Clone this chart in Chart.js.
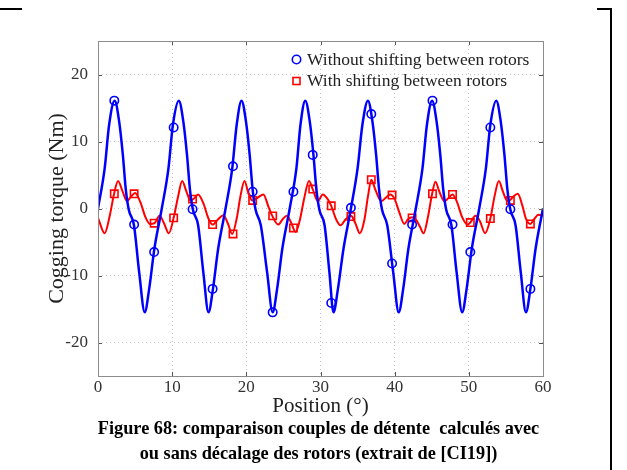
<!DOCTYPE html>
<html>
<head>
<meta charset="utf-8">
<script src="https://cdn.jsdelivr.net/npm/chart.js@4.4.1/dist/chart.umd.min.js"></script>
<style>
  body { margin: 0; background: #fff; width: 627px; height: 470px; position: relative; overflow: hidden; font-family: "Liberation Serif", "Times New Roman", serif; }
  #torqueChart { position: absolute; left: 0; top: 0; }
  .rule { position: absolute; background: #000; }
  .caption { position: absolute; left: 5px; top: 416px; width: 627px; text-align: center; font-weight: bold; font-size: 18.3px; line-height: 25px; color: #000; white-space: pre; }
</style>
</head>
<body>
<div class="rule" style="left:0;top:8px;width:22px;height:2px"></div>
<div class="rule" style="left:597px;top:8px;width:15px;height:2px"></div>
<div class="rule" style="left:610px;top:8px;width:2px;height:462px"></div>
<canvas id="torqueChart" width="627" height="470"></canvas>
<div class="caption">Figure 68: comparaison couples de détente  calculés avec
ou sans décalage des rotors (extrait de [CI19])</div>
<script>
// Axis ticks
const xTicks = [0, 10, 20, 30, 40, 50, 60];
const yTicks = [-20, -10, 0, 10, 20];

const seriesNames = ['Without shifting between rotors', 'With shifting between rotors'];

// Without shifting (blue curve)
const posWithout = [0, 0.9, 1.5, 2.25, 2.85, 3.35, 3.75, 4.15, 4.85, 5.55,
  6.3, 6.9, 7.6, 8.6, 9.5, 10.1, 10.9, 11.5, 12.0, 12.4, 12.8, 13.5, 14.2,
  14.9, 15.5, 16.2, 17.2, 18.1, 18.7, 19.35, 19.95, 20.45, 20.85, 21.25, 21.95, 22.8,
  23.55, 24.15, 24.85, 25.85, 26.75, 27.3, 27.95, 28.55, 29.05, 29.45, 29.85, 30.55, 31.2,
  31.75, 32.35, 33.1, 34.1, 35.0, 35.65, 36.4, 37.0, 37.5, 37.9, 38.3, 39.0, 39.8,
  40.55, 41.15, 41.85, 42.85, 43.75, 44.35, 45.05, 45.65, 46.15, 46.55, 46.95, 47.65, 48.35,
  49.1, 49.7, 50.4, 51.4, 52.3, 52.9, 53.7, 54.3, 54.8, 55.2, 55.6, 56.3, 57.0,
  57.7, 58.3, 59.0, 60.0];
const torqueWithout = [0, 6.0, 12.5, 16.1, 13.0, 8.0, 2.8, -0.2, -2.5, -9.5,
  -15.5, -12.0, -6.0, 0, 6.0, 12.5, 16.1, 13.0, 8.0, 2.8, -0.2, -2.5, -9.5,
  -15.5, -12.0, -6.0, 0, 6.0, 12.5, 16.1, 13.0, 8.0, 2.8, -0.2, -2.5, -9.5,
  -15.5, -12.0, -6.0, 0, 6.0, 12.5, 16.1, 13.0, 8.0, 2.8, -0.2, -2.5, -9.5,
  -15.5, -12.0, -6.0, 0, 6.0, 12.5, 16.1, 13.0, 8.0, 2.8, -0.2, -2.5, -9.5,
  -15.5, -12.0, -6.0, 0, 6.0, 12.5, 16.1, 13.0, 8.0, 2.8, -0.2, -2.5, -9.5,
  -15.5, -12.0, -6.0, 0, 6.0, 12.5, 16.1, 13.0, 8.0, 2.8, -0.2, -2.5, -9.5,
  -15.5, -12.0, -6.0, 0];

// With shifting (red curve)
const posWith = [0, 0.9, 1.6, 2.17, 2.7, 3.3, 3.9, 4.4, 5.0, 5.7, 6.4, 7.0, 7.6, 8.3, 8.9, 9.55,
  10.2, 10.8, 11.35, 11.9, 12.45, 12.95, 13.5, 14.2, 14.9, 15.45, 16.2, 16.9, 17.5, 18.1,
  18.7, 19.2, 19.75, 20.3, 20.8, 21.5, 22.3, 23.0, 23.5, 24.3, 24.9, 25.45, 26.0, 26.65,
  27.2, 27.8, 28.45, 28.95, 29.65, 30.3, 30.9, 31.45, 32.1, 32.7, 33.4, 34.1, 34.7, 35.3,
  35.9, 36.4, 36.85, 37.4, 38.2, 38.8, 39.4, 40.0, 40.6, 41.3, 41.8, 42.35, 42.9, 43.4, 43.9,
  44.5, 45.05, 45.5, 46.0, 46.7, 47.2, 47.8, 48.4, 49.1, 49.8, 50.2, 50.9, 51.5, 52.2,
  52.9, 53.5, 54.05, 54.6, 55.2, 55.6, 56.0, 56.6, 57.2, 57.7, 58.3, 58.8, 59.4, 60.0];
const torqueWith = [-1.4, -3.7, -1.0, 2.2, 4.1, 2.6, 1.1, 1.7, 2.3, 1.0, -1.3, -2.3, -2.2, -1.1, -2.2, -3.7,
  -1.4, 1.8, 4.1, 2.6, 1.2, 1.5, 2.1, 0.8, -1.5, -2.4, -1.6, -1.0, -2.2, -3.8,
  -1.5, 1.8, 4.1, 2.2, 1.2, 1.6, 2.1, 0.2, -1.1, -2.4, -1.6, -1.1, -2.0, -3.5,
  -1.8, 1.5, 4.1, 2.9, 1.1, 2.1, 1.5, 0.4, -1.6, -2.5, -1.6, -1.1, -2.2, -3.7,
  -1.8, 1.8, 4.3, 2.8, 1.1, 1.6, 2.1, 1.4, -0.5, -2.3, -1.6, -1.3, -1.7, -2.7, -3.7,
  -1.2, 2.2, 4.0, 2.6, 1.1, 1.5, 2.1, 1.0, -1.3, -2.4, -2.1, -1.1, -1.9, -3.7,
  -1.5, 2.0, 4.1, 2.5, 1.1, 1.3, 1.8, 2.2, 0.5, -1.5, -2.3, -1.6, -0.95, -1.05];

// Markers
const markPos = [2.2, 4.87, 7.57, 10.2, 12.75, 15.45, 18.2, 20.85, 23.55, 26.35, 28.95,
  31.45, 34.1, 36.85, 39.65, 42.35, 45.1, 47.8, 50.2, 52.9, 55.6, 58.3];
const markWithout = [16.1, -2.4, -6.5, 12.1, -0.1, -12.0, 6.3, 2.5, -15.5, 2.5, 8.0,
  -14.1, 0.1, 14.1, -8.2, -2.4, 16.1, -2.4, -6.5, 12.1, -0.1, -12.0];
const markWith = [2.2, 2.2, -2.2, -1.4, 1.4, -2.4, -3.8, 1.2, -1.1, -2.9, 2.9,
  0.4, -1.2, 4.3, 2.0, -1.4, 2.2, 2.1, -2.1, -1.5, 1.2, -2.3];

const BLUE = '#0000ff';
const RED = '#ff0000';
const FONT = '"Liberation Serif", "Times New Roman", serif';

function pts(xs, ys) {
  return xs.map((x, i) => ({ x: x, y: ys[i] }));
}

// frame, inward ticks and legend
const matlabBits = {
  id: 'matlabBits',
  afterDatasetsDraw(chart) {
    const ctx = chart.ctx;
    const a = chart.chartArea;
    const xs = chart.scales.x, ys = chart.scales.y;
    ctx.save();
    ctx.strokeStyle = '#555';
    ctx.lineWidth = 1;
    ctx.beginPath();
    xTicks.forEach(v => {
      const px = Math.round(xs.getPixelForValue(v)) + 0.5;
      ctx.moveTo(px, a.bottom); ctx.lineTo(px, a.bottom - 4);
      ctx.moveTo(px, a.top); ctx.lineTo(px, a.top + 4);
    });
    yTicks.forEach(v => {
      const py = Math.round(ys.getPixelForValue(v)) + 0.5;
      ctx.moveTo(a.left, py); ctx.lineTo(a.left + 4, py);
      ctx.moveTo(a.right, py); ctx.lineTo(a.right - 4, py);
    });
    ctx.stroke();
    ctx.strokeStyle = '#8c8c8c';
    ctx.strokeRect(Math.round(a.left) + 0.5, Math.round(a.top) + 0.5,
      Math.round(a.right - a.left), Math.round(a.bottom - a.top));

    // legend
    ctx.lineWidth = 1.6;
    ctx.strokeStyle = BLUE;
    ctx.beginPath();
    ctx.arc(296.5, 59.5, 4.2, 0, Math.PI * 2);
    ctx.stroke();
    ctx.strokeStyle = RED;
    ctx.strokeRect(293, 77.5, 7, 7);
    ctx.fillStyle = '#222';
    ctx.font = '17.5px ' + FONT;
    ctx.textBaseline = 'middle';
    ctx.fillText(seriesNames[0], 307, 60);
    ctx.fillText(seriesNames[1], 307, 81);
    ctx.restore();
  }
};

new Chart(document.getElementById('torqueChart'), {
  type: 'line',
  data: {
    datasets: [
      {
        label: 'without-line',
        data: pts(posWithout, torqueWithout),
        borderColor: BLUE,
        borderWidth: 2.5,
        pointRadius: 0,
        cubicInterpolationMode: 'monotone'
      },
      {
        label: 'with-line',
        data: pts(posWith, torqueWith),
        borderColor: RED,
        borderWidth: 2,
        pointRadius: 0,
        cubicInterpolationMode: 'monotone'
      },
      {
        label: seriesNames[0],
        data: pts(markPos, markWithout),
        showLine: false,
        pointStyle: 'circle',
        pointRadius: 4.2,
        pointBorderWidth: 1.6,
        pointBorderColor: BLUE,
        pointBackgroundColor: 'rgba(0,0,0,0)'
      },
      {
        label: seriesNames[1],
        data: pts(markPos, markWith),
        showLine: false,
        pointStyle: 'rect',
        pointRadius: 5.2,
        pointBorderWidth: 1.6,
        pointBorderColor: RED,
        pointBackgroundColor: 'rgba(0,0,0,0)'
      }
    ]
  },
  options: {
    responsive: false,
    animation: false,
    devicePixelRatio: 1,
    layout: { padding: { left: 0, top: 41, right: 84, bottom: 52 } },
    plugins: {
      legend: { display: false },
      tooltip: { enabled: false }
    },
    scales: {
      x: {
        type: 'linear',
        min: 0,
        max: 60,
        afterBuildTicks: s => { s.ticks = xTicks.map(v => ({ value: v })); },
        afterFit: s => { s.height = 42; },
        ticks: { font: { family: FONT, size: 17 }, color: '#333', padding: 1.5, maxRotation: 0 },
        grid: { color: '#c4c4c4', drawTicks: false },
        border: { display: false, dash: [1, 3] },
        title: {
          display: true,
          text: 'Position (°)',
          color: '#222',
          font: { family: FONT, size: 21, lineHeight: 1 },
          padding: { top: 0, bottom: 1.5 }
        }
      },
      y: {
        min: -25,
        max: 25,
        afterBuildTicks: s => { s.ticks = yTicks.map(v => ({ value: v })); },
        afterFit: s => { s.width = 98; },
        ticks: { font: { family: FONT, size: 17 }, color: '#333', padding: 10, callback: v => String(v) },
        grid: { color: '#c4c4c4', drawTicks: false },
        border: { display: false, dash: [1, 3] },
        title: {
          display: true,
          text: 'Cogging torque (Nm)',
          color: '#222',
          font: { family: FONT, size: 22 },
          padding: { top: 44, bottom: 0 }
        }
      }
    }
  },
  plugins: [matlabBits]
});
</script>
</body>
</html>
